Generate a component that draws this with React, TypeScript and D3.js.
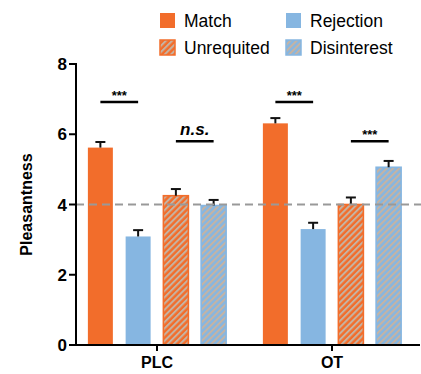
import React from "react";
import * as d3 from "d3";

const groups = ["PLC", "OT"];
const conditions = ["Match", "Rejection", "Unrequited", "Disinterest"];
const means: Record<string, number[]> = {
  PLC: [5.62, 3.09, 4.25, 3.97],
  OT: [6.31, 3.3, 4.0, 5.06],
};
const errors: Record<string, number[]> = {
  PLC: [0.16, 0.18, 0.19, 0.16],
  OT: [0.15, 0.18, 0.2, 0.18],
};
const yTicks = [0, 2, 4, 6, 8];
const significance = [
  { group: "PLC", a: 0, b: 1, label: "***", level: 6.92 },
  { group: "PLC", a: 2, b: 3, label: "n.s.", level: 5.8 },
  { group: "OT", a: 0, b: 1, label: "***", level: 6.92 },
  { group: "OT", a: 2, b: 3, label: "***", level: 5.8 },
];
const chanceLevel = 4;

const ORANGE = "#f26d2b";
const BLUE = "#86b6e1";
const HATCH = "#c6b3a2";
const colorOf = (i: number) => (i % 2 === 0 ? ORANGE : BLUE);
const hatched = (i: number) => i >= 2;

export default function App() {
  const W = 421, H = 374;
  const axisX = 76;
  const y = d3.scaleLinear().domain([0, 8]).range([345, 64]);
  const xg = d3.scalePoint<string>().domain(groups).range([157, 332]);
  const xi = d3
    .scaleBand<string>()
    .domain(conditions)
    .range([-75.5, 75.5])
    .paddingInner(0.338)
    .paddingOuter(0.169);
  const bw = xi.bandwidth();
  const font = "Liberation Sans, Arial, Helvetica, sans-serif";

  return (
    <svg
      width={W}
      height={H}
      style={{ position: "fixed", left: 0, top: 0, background: "#fff" }}
      fontFamily={font}
    >
      <defs>
        {[0, 1].map((k) => (
          <pattern
            key={k}
            id={`hatch${k}`}
            patternUnits="userSpaceOnUse"
            width={4.4}
            height={4.4}
            patternTransform="rotate(45)"
          >
            <rect width={4.4} height={4.4} fill={colorOf(k)} />
            <rect width={2} height={4.4} fill={HATCH} />
          </pattern>
        ))}
      </defs>

      {/* Legend */}
      {conditions.map((c, i) => {
        const col = i % 2;
        const row = Math.floor(i / 2);
        const lx = col === 0 ? 160 : 286;
        const ly = row === 0 ? 13 : 40;
        return (
          <g key={c}>
            <rect
              x={lx}
              y={ly}
              width={15}
              height={15}
              fill={hatched(i) ? `url(#hatch${i % 2})` : colorOf(i)}
              stroke={hatched(i) ? colorOf(i) : "none"}
              strokeWidth={1.5}
            />
            <text x={lx + 24} y={ly + 14} fontSize={17.5} fill="#000">
              {c}
            </text>
          </g>
        );
      })}

      {/* Bars */}
      {groups.map((g) =>
        conditions.map((c, i) => {
          const x0 = (xg(g) as number) + (xi(c) as number);
          const v = means[g][i];
          const e = errors[g][i];
          const cx = x0 + bw / 2;
          return (
            <g key={g + c}>
              <rect
                x={x0}
                y={y(v)}
                width={bw}
                height={y(0) - y(v)}
                fill={hatched(i) ? `url(#hatch${i % 2})` : colorOf(i)}
                stroke={hatched(i) ? colorOf(i) : "none"}
                strokeWidth={hatched(i) ? 1.6 : 0}
              />
              <line x1={cx} x2={cx} y1={y(v)} y2={y(v + e)} stroke="#111" strokeWidth={2} />
              <line x1={cx - 5} x2={cx + 5} y1={y(v + e)} y2={y(v + e)} stroke="#111" strokeWidth={2} />
            </g>
          );
        })
      )}

      {/* Chance line */}
      <line
        x1={axisX}
        x2={W}
        y1={y(chanceLevel)}
        y2={y(chanceLevel)}
        stroke="#999"
        strokeWidth={2}
        strokeDasharray="8,5"
      />

      {/* Significance */}
      {significance.map((s, k) => {
        const xa = (xg(s.group) as number) + (xi(conditions[s.a]) as number) + bw / 2;
        const xb = (xg(s.group) as number) + (xi(conditions[s.b]) as number) + bw / 2;
        const ly = y(s.level);
        const ns = s.label === "n.s.";
        return (
          <g key={k}>
            <line x1={xa} x2={xb} y1={ly} y2={ly} stroke="#000" strokeWidth={2.5} />
            <text
              x={(xa + xb) / 2}
              y={ns ? ly - 6 : ly - 2}
              textAnchor="middle"
              fontSize={ns ? 17 : 13}
              fontWeight="bold"
              fontStyle={ns ? "italic" : "normal"}
            >
              {s.label}
            </text>
          </g>
        );
      })}

      {/* Y axis */}
      <line x1={axisX} x2={axisX} y1={y(8) - 1} y2={y(0) + 1} stroke="#000" strokeWidth={2} />
      {yTicks.map((t) => (
        <g key={t}>
          <line x1={axisX - 7} x2={axisX} y1={y(t)} y2={y(t)} stroke="#000" strokeWidth={2} />
          <text
            x={axisX - 9}
            y={y(t) + 6}
            textAnchor="end"
            fontSize={17}
            fontWeight="bold"
          >
            {t}
          </text>
        </g>
      ))}
      <text
        transform={`translate(32, ${y(4)}) rotate(-90)`}
        textAnchor="middle"
        fontSize={16}
        fontWeight="bold"
      >
        Pleasantness
      </text>

      {/* X axis */}
      <line x1={axisX - 1} x2={420} y1={y(0)} y2={y(0)} stroke="#000" strokeWidth={2} />
      {groups.map((g) => (
        <g key={g}>
          <line x1={xg(g)} x2={xg(g)} y1={y(0)} y2={y(0) + 6} stroke="#000" strokeWidth={2} />
          <text x={xg(g)} y={368} textAnchor="middle" fontSize={16} fontWeight="bold">
            {g}
          </text>
        </g>
      ))}
    </svg>
  );
}
